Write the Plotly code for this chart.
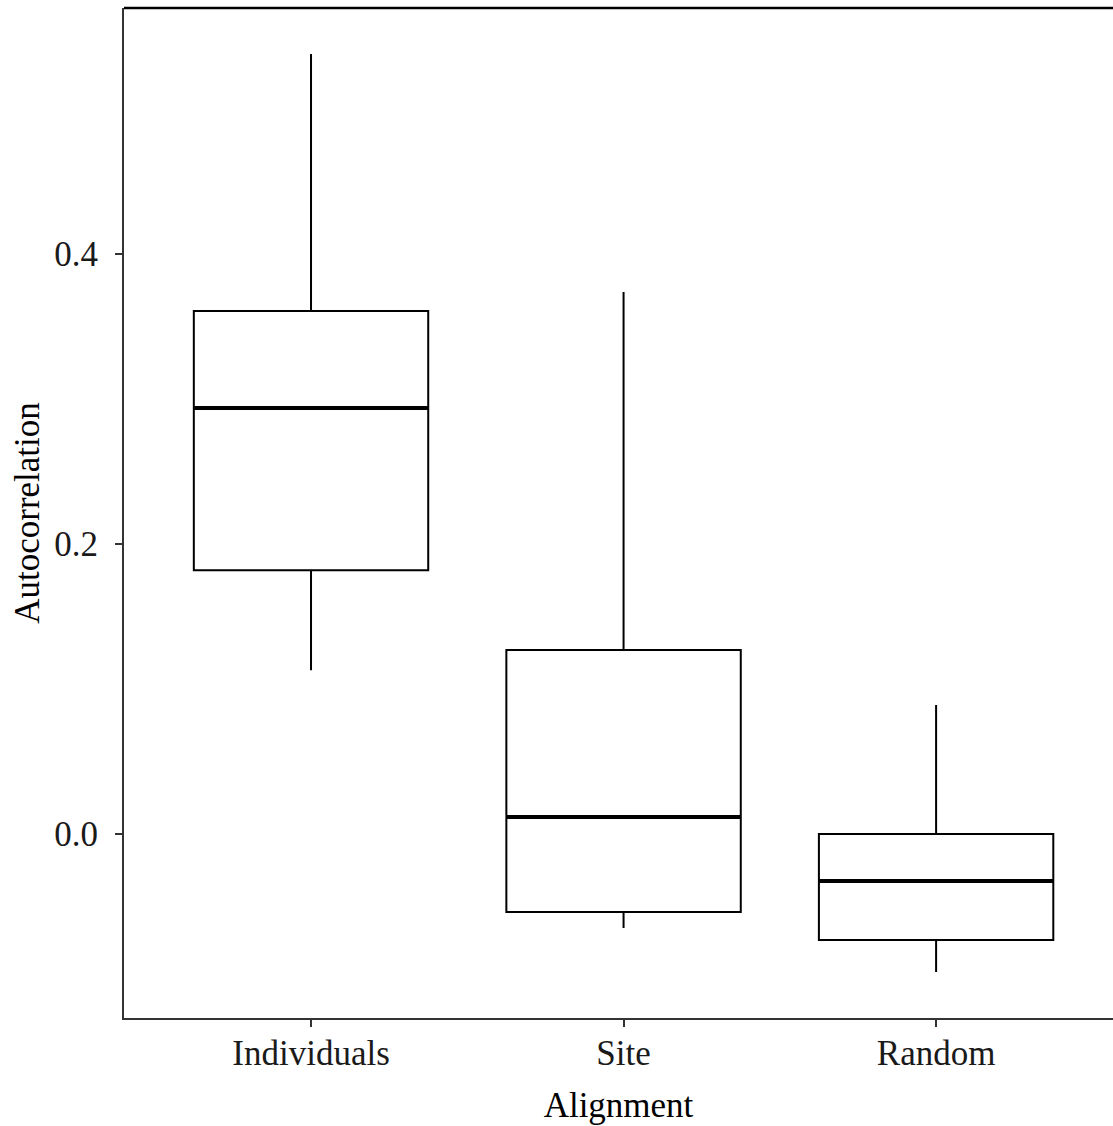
import plotly.graph_objects as go

categories = ["Individuals", "Site", "Random"]
positions = [1, 2, 3]
lower_whisker = [0.113, -0.0648, -0.0952]
q1_vals = [0.182, -0.0538, -0.0731]
median_vals = [0.2938, 0.0117, -0.0324]
q3_vals = [0.3607, 0.1269, 0.0]
upper_whisker = [0.538, 0.3738, 0.089]
y_ticks = [0.0, 0.2, 0.4]
y_tick_labels = ["0.0", "0.2", "0.4"]

BOX_W = 0.75
FONT = "Liberation Serif"

fig = go.Figure()
fig.add_trace(go.Box(
    x=positions, q1=q1_vals, median=median_vals, q3=q3_vals,
    lowerfence=lower_whisker, upperfence=upper_whisker,
    width=BOX_W, whiskerwidth=0,
    line=dict(color="black", width=2),
    fillcolor="white", boxpoints=False, showlegend=False, hoverinfo="skip",
))
for x, m in zip(positions, median_vals):
    fig.add_trace(go.Scatter(
        x=[x - BOX_W / 2, x + BOX_W / 2], y=[m, m], mode="lines",
        line=dict(color="black", width=4), showlegend=False, hoverinfo="skip",
    ))

fig.update_layout(
    width=1113, height=1126,
    margin=dict(l=124, r=0, t=8, b=108),
    paper_bgcolor="white", plot_bgcolor="white",
    font=dict(family=FONT, size=35, color="#1a1a1a"),
    shapes=[dict(type="line", xref="paper", yref="paper", x0=0, x1=1, y0=1, y1=1,
                 line=dict(color="black", width=2.5))],
)
fig.update_xaxes(
    range=[0.4016, 3.566], tickvals=positions, ticktext=categories,
    showgrid=False, zeroline=False, showline=True, linecolor="#333", linewidth=2,
    ticks="outside", ticklen=7, tickwidth=2, tickcolor="#333",
    ticklabelstandoff=-4,
    tickfont=dict(family=FONT, size=35, color="#1a1a1a"),
    title=dict(text="Alignment", font=dict(family=FONT, size=35, color="black"), standoff=20),
)
fig.update_yaxes(
    range=[-0.1269, 0.5697], tickvals=y_ticks, ticktext=y_tick_labels,
    showgrid=False, zeroline=False, showline=True, linecolor="#333", linewidth=2,
    ticks="outside", ticklen=7, tickwidth=2, tickcolor="#333",
    ticklabelstandoff=10,
    tickfont=dict(family=FONT, size=35, color="#1a1a1a"),
    title=dict(text="Autocorrelation", font=dict(family=FONT, size=35, color="black"), standoff=4),
)
fig.write_html("out.html")
